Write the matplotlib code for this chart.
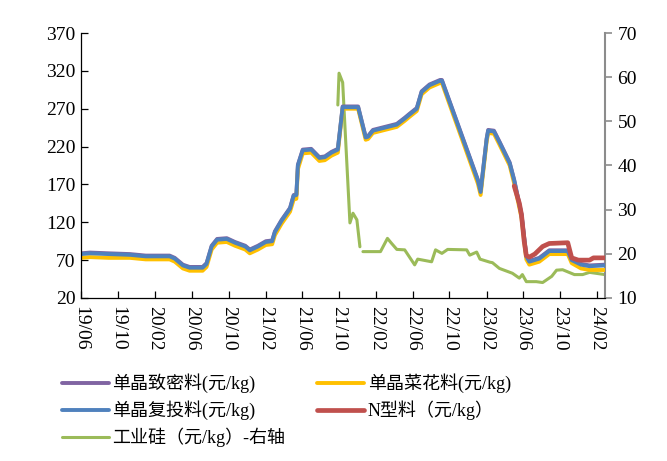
import numpy as np
import pandas as pd
import matplotlib
matplotlib.use('Agg')
import matplotlib.pyplot as plt
import matplotlib.dates as mdates

plt.rcParams['font.family'] = ['Liberation Serif', 'Noto Sans CJK SC']

# polysilicon prices (left axis, yuan/kg)
poly_dates = ['2019-06-01', '2019-07-01', '2019-09-01', '2019-11-10', '2020-01-01', '2020-03-20',
              '2020-04-06', '2020-05-03', '2020-05-25', '2020-07-07', '2020-07-20', '2020-08-06',
              '2020-08-24', '2020-09-25', '2020-10-22', '2020-11-25', '2020-12-10', '2021-01-06',
              '2021-02-01', '2021-02-22', '2021-03-03', '2021-03-25', '2021-04-22', '2021-05-04',
              '2021-05-13', '2021-05-18', '2021-06-03', '2021-07-01', '2021-07-28', '2021-08-15',
              '2021-09-06', '2021-09-27', '2021-10-13', '2021-12-03', '2021-12-28', '2022-01-05',
              '2022-01-21', '2022-04-10', '2022-05-06', '2022-05-21', '2022-06-15', '2022-07-01',
              '2022-07-27', '2022-08-31', '2022-09-06', '2023-01-03', '2023-01-12', '2023-02-01',
              '2023-02-06', '2023-02-25', '2023-03-16', '2023-04-18', '2023-05-03', '2023-05-27',
              '2023-06-12', '2023-06-22', '2023-07-25', '2023-08-27', '2023-10-27', '2023-11-09',
              '2023-12-10', '2024-01-07', '2024-02-27']
dense = [79, 80, 79, 78, 76, 76, 73, 64, 61, 61, 66, 89, 98, 99, 94, 89, 84, 89,
         95, 96, 108, 123, 139, 156, 157, 196, 216, 217, 206, 207, 213, 217, 273, 273,
         233, 234, 242, 250, 258, 263, 271, 293, 302, 308, 308, 176, 161, 231, 242, 241,
         226, 199, 176, 131, 76, 69, 73, 83, 83, 71, 65, 63, 64]
cauliflower = [73, 74, 73, 73, 71, 71, 68, 59, 56, 56, 61, 84, 93, 94, 89, 84, 79, 84,
               90, 91, 103, 118, 134, 150, 151, 190, 211, 212, 201, 202, 208, 212, 270, 270,
               229, 230, 238, 246, 254, 259, 267, 289, 298, 304, 304, 171, 156, 227, 238, 237,
               222, 195, 171, 126, 71, 64, 68, 78, 78, 66, 59, 57, 57]
recharge = [78, 79, 78, 77, 75, 75, 72, 63, 60, 60, 65, 88, 97, 98, 93, 88, 83, 88,
            94, 95, 107, 122, 138, 155, 156, 195, 215, 216, 205, 206, 212, 216, 272, 272,
            232, 233, 241, 249, 257, 262, 270, 292, 301, 307, 307, 175, 160, 230, 241, 240,
            225, 198, 175, 130, 75, 68, 72, 82, 82, 70, 64, 62, 63]

n_dates = ['2023-05-03', '2023-05-20', '2023-05-27', '2023-06-05', '2023-06-12', '2023-06-22',
           '2023-07-10', '2023-08-05', '2023-08-27', '2023-10-27', '2023-11-09', '2023-12-01',
           '2024-01-07', '2024-01-20', '2024-02-27']
n_type = [168, 145, 130, 95, 76, 74, 78, 88, 92, 93, 73, 70, 70, 73, 73]

# industrial silicon (right axis, yuan/kg)
si_dates = ['2021-09-27', '2021-10-01', '2021-10-13', '2021-11-06', '2021-11-16', '2021-11-29',
            '2021-12-09', '2021-12-14', '2021-12-19', '2022-02-15', '2022-03-10', '2022-03-22',
            '2022-04-10', '2022-05-06', '2022-06-08', '2022-06-18', '2022-08-03', '2022-08-16',
            '2022-09-06', '2022-09-25', '2022-11-27', '2022-12-07', '2022-12-30', '2023-01-10',
            '2023-02-12', '2023-02-20', '2023-03-15', '2023-04-27', '2023-05-20', '2023-05-30',
            '2023-06-12', '2023-07-15', '2023-08-05', '2023-09-04', '2023-09-20', '2023-10-10',
            '2023-11-18', '2023-12-15', '2024-01-07', '2024-02-27']
silicon = [53.7, 60.9, 58.8, 27.0, 29.2, 27.7, 21.6, np.nan, 20.5, 20.5, 23.5, 22.5,
           21.0, 20.9, 17.5, 18.8, 18.2, 20.9, 20.1, 21.0, 20.9, 19.7, 20.4, 18.8,
           18.1, 18.0, 16.7, 15.6, 14.5, 15.3, 13.7, 13.7, 13.5, 14.9, 16.3, 16.4,
           15.3, 15.3, 15.8, 15.3]

labels = ['单晶致密料(元/kg)', '单晶复投料(元/kg)', '工业硅（元/kg）-右轴',
          '单晶菜花料(元/kg)', 'N型料（元/kg）']

pd_dates = pd.to_datetime(poly_dates)
n_dt = pd.to_datetime(n_dates)
si_dt = pd.to_datetime(si_dates)

fig = plt.figure(figsize=(6.67, 4.61), dpi=100)
ax = fig.add_axes([0.1214, 0.3536, 0.7856, 0.5748])
ax2 = ax.twinx()

l_dense, = ax.plot(pd_dates, dense, color='#8064A2', lw=2.8, solid_capstyle='round')
l_caul, = ax.plot(pd_dates, cauliflower, color='#FFC000', lw=2.8, solid_capstyle='round')
l_rech, = ax.plot(pd_dates, recharge, color='#4F81BD', lw=2.8, solid_capstyle='round')
l_n, = ax.plot(n_dt, n_type, color='#C0504D', lw=3.4, solid_capstyle='round')
l_si, = ax2.plot(si_dt, silicon, color='#9BBB59', lw=2.2, solid_capstyle='round')
ax.set_zorder(ax2.get_zorder() + 1)
ax.patch.set_visible(False)

ax.set_xlim(pd.Timestamp('2019-06-01'), pd.Timestamp('2024-02-27'))
ax.set_ylim(20, 370)
ax.set_yticks(np.arange(20, 371, 50))
ax2.set_ylim(10, 70)
ax2.set_yticks(np.arange(10, 71, 10))

ax.xaxis.set_major_locator(mdates.MonthLocator(bymonth=[2, 6, 10]))
ax.xaxis.set_major_formatter(mdates.DateFormatter('%y/%m'))
for lab in ax.get_xticklabels():
    lab.set_rotation(270)

ax.tick_params(axis='x', direction='in', length=5, width=0.9, labelsize=14, pad=6, colors='black')
ax.tick_params(axis='y', direction='in', length=5, width=0.9, labelsize=14, pad=4)
ax2.tick_params(axis='y', direction='out', length=5, width=1.2, labelsize=14, pad=4,
                color='#8c8c8c', labelcolor='black')

for a in (ax, ax2):
    a.spines['top'].set_visible(False)
ax.spines['right'].set_visible(False)
ax2.spines['left'].set_visible(False)
ax2.spines['bottom'].set_visible(False)
ax2.spines['right'].set_color('#8c8c8c')
ax2.spines['right'].set_linewidth(1.5)
ax.spines['left'].set_linewidth(0.9)
ax.spines['bottom'].set_linewidth(0.9)

fig.legend([l_dense, l_rech, l_si, l_caul, l_n], labels, ncol=2, frameon=False,
           loc='upper left', bbox_to_anchor=(0.082, 0.205), fontsize=13,
           handlelength=2.6, handletextpad=0.2, columnspacing=1.75, labelspacing=0.4,
           borderaxespad=0)

fig.savefig('out.png', dpi=100)
